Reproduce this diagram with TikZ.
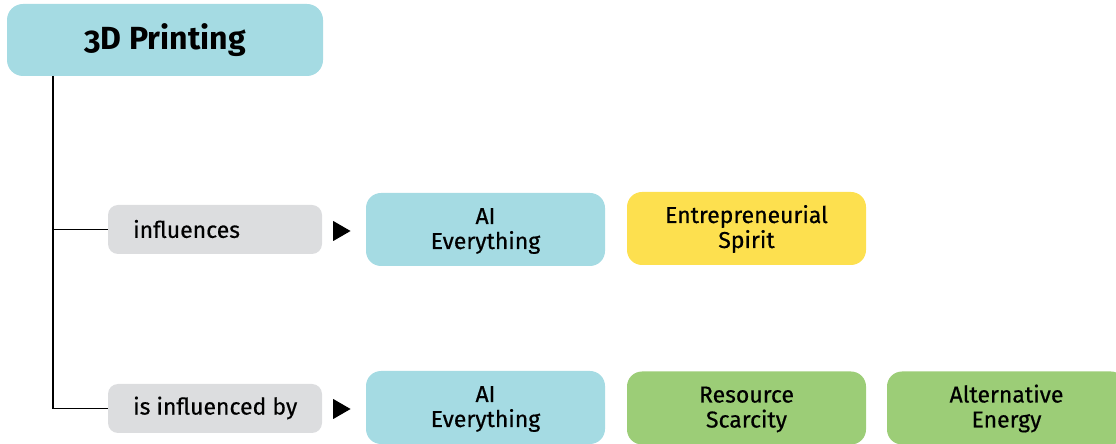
\documentclass[tikz,border=0pt]{standalone}
\usepackage{fontspec}
\setmainfont{Fira Sans}[Numbers=OldStyle]
\newfontfamily\medfont{Fira Sans}[FakeBold=0.5]
\usetikzlibrary{shapes.geometric}
\definecolor{cblue}{HTML}{A5DBE3}
\definecolor{cyellow}{HTML}{FDE04F}
\definecolor{cgreen}{HTML}{9CCD77}
\definecolor{cgrey}{HTML}{DCDDDF}
\tikzset{
  topic/.style={rounded corners=15pt, minimum width=239pt, minimum height=73pt, inner sep=0pt,
    align=center, font=\medfont\fontsize{23}{25}\selectfont, text height=43pt, text depth=4pt},
  relbox/.style={rounded corners=10pt, fill=cgrey, minimum width=214pt, minimum height=49pt,
    inner sep=0pt},
  reltext/.style={anchor=west, inner sep=0pt, font=\medfont\fontsize{23}{26}\selectfont},
  marker/.style={isosceles triangle, isosceles triangle apex angle=60, fill=black, inner sep=0pt,
    minimum height=12pt, minimum width=20pt},
  link/.style={line width=1.2pt, black}
}
\begin{document}
\begin{tikzpicture}[x=1pt,y=1pt]
\useasboundingbox (0,0) rectangle (1116,444);
\node[rounded corners=16pt, fill=cblue, minimum width=316pt, minimum height=72pt, inner sep=0pt,
  font=\fontsize{32}{36}\selectfont\bfseries, text height=24pt, text depth=4pt] (title) at (165,404) {3D Printing};
\coordinate (trunk) at (53,368);
\node[relbox] (rel1) at (215,214.5) {};
\node[reltext] (rel1t) at (133,215) {influences};
\node[relbox] (rel2) at (215,35.5) {};
\node[reltext] (rel2t) at (133,36) {is influenced by};
\node[marker] (m1) at (339,213) {};
\node[marker] (m2) at (339,35) {};
\node[topic, fill=cblue] (ai1) at (485.5,214.5) {AI\\Everything};
\node[topic, fill=cyellow] (es) at (746.5,215.5) {Entrepreneurial\\Spirit};
\node[topic, fill=cblue] (ai2) at (485.5,36.5) {AI\\Everything};
\node[topic, fill=cgreen] (rs) at (746.5,36) {Resource\\Scarcity};
\node[topic, fill=cgreen] (ae) at (1006.5,36) {Alternative\\Energy};
\draw[link] (trunk) |- (rel2.west);
\draw[link] (trunk |- rel1.west) -- (rel1.west);
\end{tikzpicture}
\end{document}
